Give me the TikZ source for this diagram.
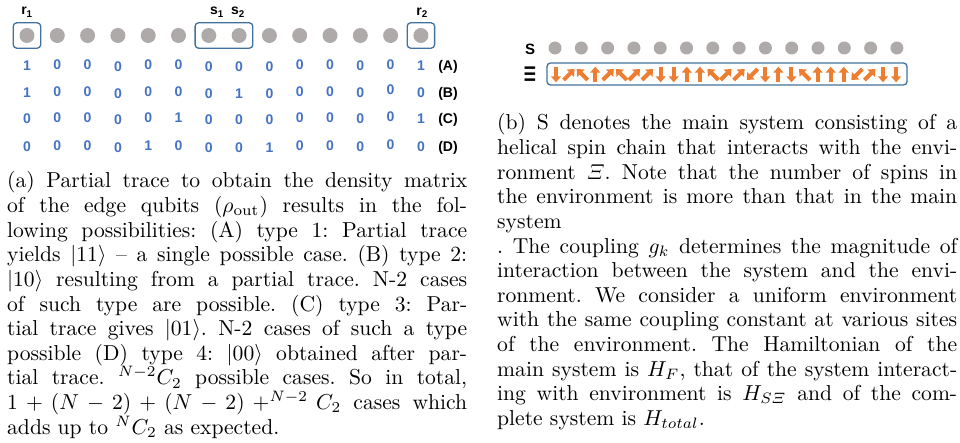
\documentclass[tikz,border=0pt]{standalone}
\usepackage[no-math]{fontspec}
\usepackage{graphicx}
\newfontfamily\lsans{Liberation Sans}
\usetikzlibrary{arrows.meta,fit,calc}
\definecolor{qgray}{HTML}{AEAAAA}
\definecolor{qblue}{HTML}{4472C4}
\definecolor{qframe}{HTML}{41719C}
\definecolor{qorange}{HTML}{ED7D31}
\newcommand\capline[1]{\makebox[\linewidth][s]{#1}\\}
\newcommand\capfont{\fontsize{10}{11.39}\selectfont\frenchspacing}
\tikzset{
  qubit/.style={circle, fill=qgray, minimum size=15pt, inner sep=0pt},
  squbit/.style={circle, fill=qgray, minimum size=13pt, inner sep=0pt},
  selbox/.style={draw=qframe, line width=1.3pt, rounded corners=3.5pt},
  digit/.style={text=qblue, font=\lsans\bfseries\fontsize{14}{14}\selectfont, inner sep=0pt, anchor=base},
  rowlab/.style={font=\lsans\bfseries\fontsize{14}{14}\selectfont, inner sep=0pt, anchor=base},
  toplab/.style={font=\lsans\bfseries\fontsize{14}{14}\selectfont, inner sep=0pt, anchor=base},
  sidelab/.style={font=\lsans\bfseries\fontsize{15}{15}\selectfont, inner sep=0pt},
  spin/.style={qorange, line width=4pt, -{Triangle[width=10pt,length=6pt]}},
  captext/.style={inner sep=0pt, anchor=base west}
}
\begin{document}
\begin{tikzpicture}[x=1pt,y=-1pt]
\useasboundingbox (0,0) rectangle (960,443);
% ---------- panel (a) ----------
\foreach \i in {1,...,14}
  \node[qubit] (q\i) at ({27+(\i-1)*30.3},35.5) {};
\node[selbox, fit=(q1), inner xsep=6pt, inner ysep=5pt] (b1) {};
\node[selbox, fit=(q7)(q8), inner xsep=6pt, inner ysep=5pt] (b2) {};
\node[selbox, fit=(q14), inner xsep=6pt, inner ysep=5pt] (b3) {};
\node[toplab] (r1) at (27,15) {r\textsubscript{1}};
\node[toplab] (s1) at (217,15) {s\textsubscript{1}};
\node[toplab] (s2) at (238,15) {s\textsubscript{2}};
\node[toplab] (r2) at (422,15.5) {r\textsubscript{2}};
% digit rows
\foreach \v [count=\c] in {1,0,0,0,0,0,0,0,0,0,0,0,0,1}{
  \pgfmathsetmacro\off{{0.7,0,0,1.7,0,0,1.7,1.7,1.7,0,0,1.2,0,1.2}[\c-1]}
  \node[digit] (dA\c) at ({27+(\c-1)*30.3},{69.5+\off}) {\v};}
\foreach \v [count=\c] in {1,0,0,0,0,0,0,1,0,0,0,0,0,0}{
  \pgfmathsetmacro\off{{0.7,0,0,1.7,0,0,1.7,1.7,1.7,0,0,0.7,-1.5,0.7}[\c-1]}
  \node[digit] (dB\c) at ({27+(\c-1)*30.3},{96.5+\off}) {\v};}
\foreach \v [count=\c] in {0,0,0,0,0,1,0,0,0,0,0,0,0,1}{
  \pgfmathsetmacro\off{{0.7,0,0,1.7,0,0,1.7,1.7,1.7,0,0,0.7,-1.5,0.7}[\c-1]}
  \node[digit] (dC\c) at ({27+(\c-1)*30.3},{123+\off}) {\v};}
\foreach \v [count=\c] in {0,0,0,0,1,0,0,0,1,0,0,0,0,0}{
  \pgfmathsetmacro\off{{0.7,0,0,1.7,0,0,1.7,1.7,1.7,0,0,0.7,-1.5,0.7}[\c-1]}
  \node[digit] (dD\c) at ({27+(\c-1)*30.3},{151+\off}) {\v};}
\node[rowlab] (lA) at (448,70.5) {(A)};
\node[rowlab] (lB) at (448,97.5) {(B)};
\node[rowlab] (lC) at (448,124) {(C)};
\node[rowlab] (lD) at (448,152) {(D)};
% caption (a)
\node[captext] (capa) at (7,188) {\scalebox{2.16}{\parbox[t]{212.96pt}{\capfont
\capline{(a) Partial trace to obtain the density matrix}
\capline{of the edge qubits ($\rho_{\mathrm{out}}$) results in the fol-}
\capline{lowing possibilities: (A) type 1: Partial trace}
\capline{yields $|11\rangle$ -- a single possible case. (B) type 2:}
\capline{$|10\rangle$ resulting from a partial trace. N-2 cases}
\capline{of such type are possible. (C) type 3: Par-}
\capline{tial trace gives $|01\rangle$. N-2 cases of such a type}
\capline{possible (D) type 4: $|00\rangle$ obtained after par-}
\capline{tial trace. ${}^{N-2}C_2$ possible cases. So in total,}
\capline{$1+(N-2)+(N-2)+^{N-2}C_2$ cases which}
adds up to ${}^{N}C_2$ as expected.}}};
% ---------- panel (b) ----------
\node[sidelab] (S) at (530,49.5) {S};
\node[sidelab, inner sep=0pt] (Xi) at (530,76.5) {\scalebox{1.45}[2.3]{≡}};
\foreach \i in {1,...,14}
  \node[squbit] (p\i) at ({555+(\i-1)*26.3},48) {};
\node[selbox, minimum width=360pt, minimum height=22pt, inner sep=0pt] (env) at (727,74) {};
\foreach \a [count=\i] in {270,45,135,90,45,135,45,45,270,270,90,90,135,45,45,225,270,90,270,135,90,90,90,225,45,270,270}{
  \coordinate (c\i) at ({556+(\i-1)*13.08},74.5);
  \draw[spin] ($(c\i)+({-7.8*cos(\a)},{7.8*sin(\a)})$) -- ($(c\i)+({7.8*cos(\a)},{-7.8*sin(\a)})$);
}
% caption (b)
\node[captext] (capb) at (497,130) {\scalebox{2.16}{\parbox[t]{212.96pt}{\capfont
\capline{(b) S denotes the main system consisting of a}
\capline{helical spin chain that interacts with the envi-}
\capline{ronment $\mathnormal{\Xi}$. Note that the number of spins in}
\capline{the environment is more than that in the main}
system\\
\capline{. The coupling $g_k$ determines the magnitude of}
\capline{interaction between the system and the envi-}
\capline{ronment. We consider a uniform environment}
\capline{with the same coupling constant at various sites}
\capline{of the environment. The Hamiltonian of the}
\capline{main system is $H_F$, that of the system interact-}
\capline{ing with environment is $H_{S\mathnormal{\Xi}}$ and of the com-}
plete system is $H_{total}$.}}};
\end{tikzpicture}
\end{document}
